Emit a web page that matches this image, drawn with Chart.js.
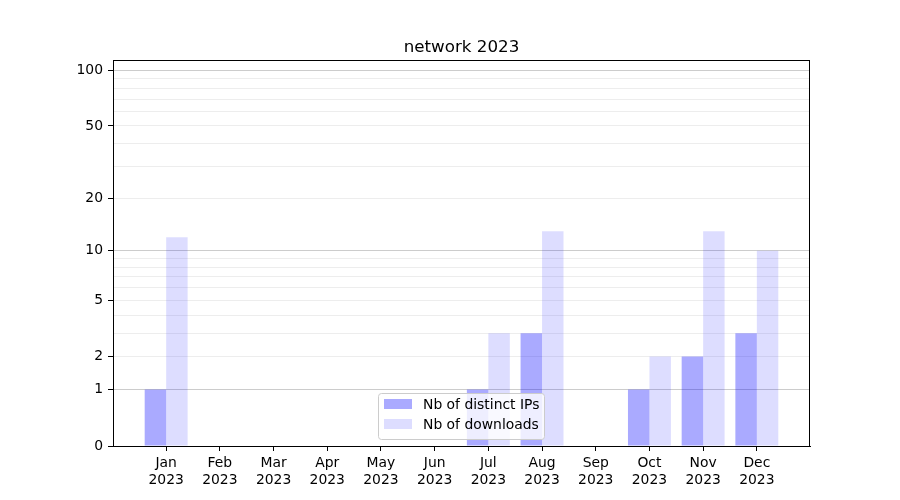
<!DOCTYPE html>
<html>
<head>
<meta charset="utf-8">
<script src="https://cdn.jsdelivr.net/npm/chart.js@4/dist/chart.umd.min.js"></script>
<style>
  html, body { margin: 0; padding: 0; background: #fff; }
  canvas { display: block; }
</style>
</head>
<body>
<canvas id="chart" width="900" height="500"></canvas>
<script>
const months = ["Jan", "Feb", "Mar", "Apr", "May", "Jun", "Jul", "Aug", "Sep", "Oct", "Nov", "Dec"];
const year = "2023";
const distinctIps = [1, 0, 0, 0, 0, 0, 1, 3, 0, 1, 2, 3];
const downloads = [12, 0, 0, 0, 0, 0, 3, 13, 0, 2, 13, 10];
const yTickLabels = [0, 1, 2, 5, 10, 20, 50, 100];
const yMajorGrid = [1, 10, 100];
const yMinorGrid = [2, 3, 4, 6, 7, 8, 9, 20, 30, 40, 60, 70, 80, 90, 5, 50];

const FONT = "DejaVu Sans";
Chart.defaults.font.family = FONT;
Chart.defaults.font.size = 13.9;
Chart.defaults.color = "#000";

// y axis shown as log10(1 + v)
const tf = v => Math.log10(1 + v);
const tfInv = t => Math.pow(10, t) - 1;

class Log1pScale extends Chart.Scale {
    determineDataLimits() {
        const { min, max } = this.getMinMax(true);
        this.min = this.options.min ?? min;
        this.max = this.options.max ?? max;
    }
    buildTicks() {
        const vals = [...new Set([...yTickLabels, ...yMajorGrid, ...yMinorGrid])].sort((a, b) => a - b);
        return vals.filter(v => v >= this.min && v <= this.max).map(v => ({ value: v }));
    }
    configure() {
        super.configure();
        this._t0 = tf(this.min);
        this._tr = tf(this.max) - this._t0;
    }
    getLabelForValue(v) {
        return String(v);
    }
    getPixelForValue(v) {
        return this.getPixelForDecimal((tf(v) - this._t0) / this._tr);
    }
    getValueForPixel(p) {
        return tfInv(this.getDecimalForPixel(p) * this._tr + this._t0);
    }
}
Log1pScale.id = "log1p";
Log1pScale.defaults = {};
Chart.register(Log1pScale);

const frameAndText = {
    id: "frameAndText",
    afterDatasetsDraw(chart) {
        const { ctx, chartArea: a } = chart;
        ctx.save();
        ctx.strokeStyle = "#000";
        ctx.lineWidth = 1;
        ctx.strokeRect(Math.round(a.left) + 0.5, Math.round(a.top) + 0.5,
            Math.round(a.right - a.left) - 1, Math.round(a.bottom - a.top));

        // title
        ctx.fillStyle = "#000";
        ctx.font = "16.7px " + FONT;
        ctx.textAlign = "center";
        ctx.textBaseline = "alphabetic";
        ctx.fillText("network " + year, (a.left + a.right) / 2, a.top - 8.5);

        // legend, lower center inside the axes
        const bx = 378, by = 393, bw = 166, bh = 46;
        ctx.beginPath();
        ctx.roundRect(bx + 0.5, by + 0.5, bw, bh, 3);
        ctx.fillStyle = "rgba(255,255,255,0.8)";
        ctx.fill();
        ctx.strokeStyle = "#cccccc";
        ctx.stroke();
        ctx.font = "13.9px " + FONT;
        ctx.textAlign = "left";
        ctx.textBaseline = "middle";
        chart.data.datasets.forEach((ds, i) => {
            const y = by + 11 + i * 20;
            ctx.fillStyle = "#fff";
            ctx.fillRect(bx + 6, y - 5, 28, 10);
            ctx.fillStyle = ds.backgroundColor;
            ctx.fillRect(bx + 6, y - 5, 28, 10);
            ctx.fillStyle = "#000";
            ctx.fillText(ds.label, bx + 45, y + 1);
        });
        ctx.restore();
    }
};

new Chart(document.getElementById("chart"), {
    type: "bar",
    data: {
        datasets: [{
            label: "Nb of distinct IPs",
            data: distinctIps.map((v, i) => ({ x: i, y: v })),
            backgroundColor: "rgba(0,0,255,0.333)",
            borderWidth: 0
        }, {
            label: "Nb of downloads",
            data: downloads.map((v, i) => ({ x: i, y: v })),
            backgroundColor: "rgba(0,0,255,0.135)",
            borderWidth: 0
        }]
    },
    options: {
        responsive: false,
        animation: false,
        layout: { padding: { top: 60, right: 90, left: 0, bottom: 0 } },
        categoryPercentage: 0.8,
        barPercentage: 1.0,
        plugins: {
            legend: { display: false },
            title: { display: false },
            tooltip: { enabled: false }
        },
        scales: {
            x: {
                type: "linear",
                min: -0.99,
                max: 11.99,
                offset: false,
                afterBuildTicks: s => { s.ticks = months.map((m, i) => ({ value: i })); },
                afterFit: s => { s.height = 54; },
                ticks: {
                    autoSkip: false,
                    maxRotation: 0,
                    padding: 4,
                    font: { size: 13.9, lineHeight: 1.2 },
                    callback: v => [months[v], year]
                },
                grid: { offset: false, drawOnChartArea: false, tickLength: 5, tickColor: "#000" },
                border: { color: "#000", width: 1 }
            },
            y: {
                type: "log1p",
                min: 0,
                max: 113.7,
                afterFit: s => { s.width = 113; },
                ticks: {
                    autoSkip: false,
                    padding: 5,
                    callback: v => yTickLabels.includes(v) ? String(v) : ""
                },
                grid: {
                    tickLength: 5,
                    color: c => {
                        const v = c.tick ? c.tick.value : 0;
                        if (v === 0) return "rgba(0,0,0,0)";
                        return yMajorGrid.includes(v) ? "rgba(0,0,0,0.2)" : "rgba(0,0,0,0.07)";
                    },
                    tickColor: c => (c.tick && yTickLabels.includes(c.tick.value)) ? "#000" : "rgba(0,0,0,0)"
                },
                border: { color: "#000", width: 1 }
            }
        }
    },
    plugins: [frameAndText]
});
</script>
</body>
</html>
